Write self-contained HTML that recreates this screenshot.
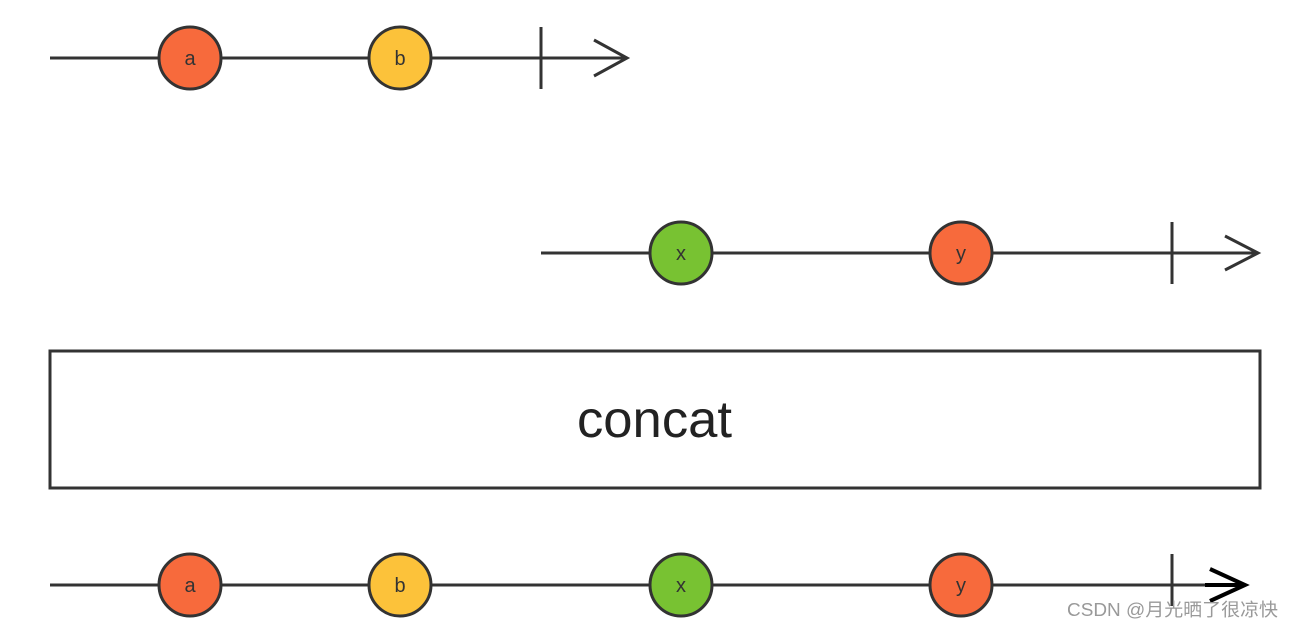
<!DOCTYPE html>
<html><head><meta charset="utf-8"><style>
html,body{margin:0;padding:0;background:#fff;width:1293px;height:628px;overflow:hidden}
</style></head><body>
<svg width="1293" height="628" viewBox="0 0 1293 628" xmlns="http://www.w3.org/2000/svg" font-family="Liberation Sans, sans-serif">
<g stroke="#333" stroke-width="3" fill="none">
<line x1="50" y1="58" x2="627" y2="58"/>
<line x1="541" y1="27" x2="541" y2="89"/>
<polyline points="594,40 627,58 594,76"/>
<line x1="541" y1="253" x2="1258" y2="253"/>
<line x1="1172" y1="222" x2="1172" y2="284"/>
<polyline points="1225,236 1258,253 1225,270"/>
<rect x="50" y="351" width="1210" height="137"/>
<line x1="50" y1="585" x2="1245" y2="585"/>
<line x1="1172" y1="554" x2="1172" y2="606"/>
</g>
<polyline points="1210,569 1245,585 1210,601" stroke="#000" stroke-width="4" fill="none"/>
<line x1="1205" y1="585" x2="1245" y2="585" stroke="#000" stroke-width="4"/>
<g stroke="#333" stroke-width="3">
<circle cx="190" cy="58" r="31" fill="#f76a3c"/>
<circle cx="400" cy="58" r="31" fill="#fcc23a"/>
<circle cx="681" cy="253" r="31" fill="#78c232"/>
<circle cx="961" cy="253" r="31" fill="#f76a3c"/>
<circle cx="190" cy="585" r="31" fill="#f76a3c"/>
<circle cx="400" cy="585" r="31" fill="#fcc23a"/>
<circle cx="681" cy="585" r="31" fill="#78c232"/>
<circle cx="961" cy="585" r="31" fill="#f76a3c"/>
</g>
<g font-size="20" fill="#333" text-anchor="middle">
<text x="190" y="65">a</text><text x="400" y="65">b</text>
<text x="681" y="260">x</text><text x="961" y="260">y</text>
<text x="190" y="592">a</text><text x="400" y="592">b</text>
<text x="681" y="592">x</text><text x="961" y="592">y</text>
</g>
<text x="577" y="437" font-size="52" fill="#222" textLength="155" lengthAdjust="spacingAndGlyphs">concat</text>
<text x="1067" y="616" font-size="18" fill="#999" textLength="211" lengthAdjust="spacingAndGlyphs" font-family="Liberation Sans, Noto Sans CJK SC, sans-serif">CSDN @月光晒了很凉快</text>
</svg>
</body></html>
